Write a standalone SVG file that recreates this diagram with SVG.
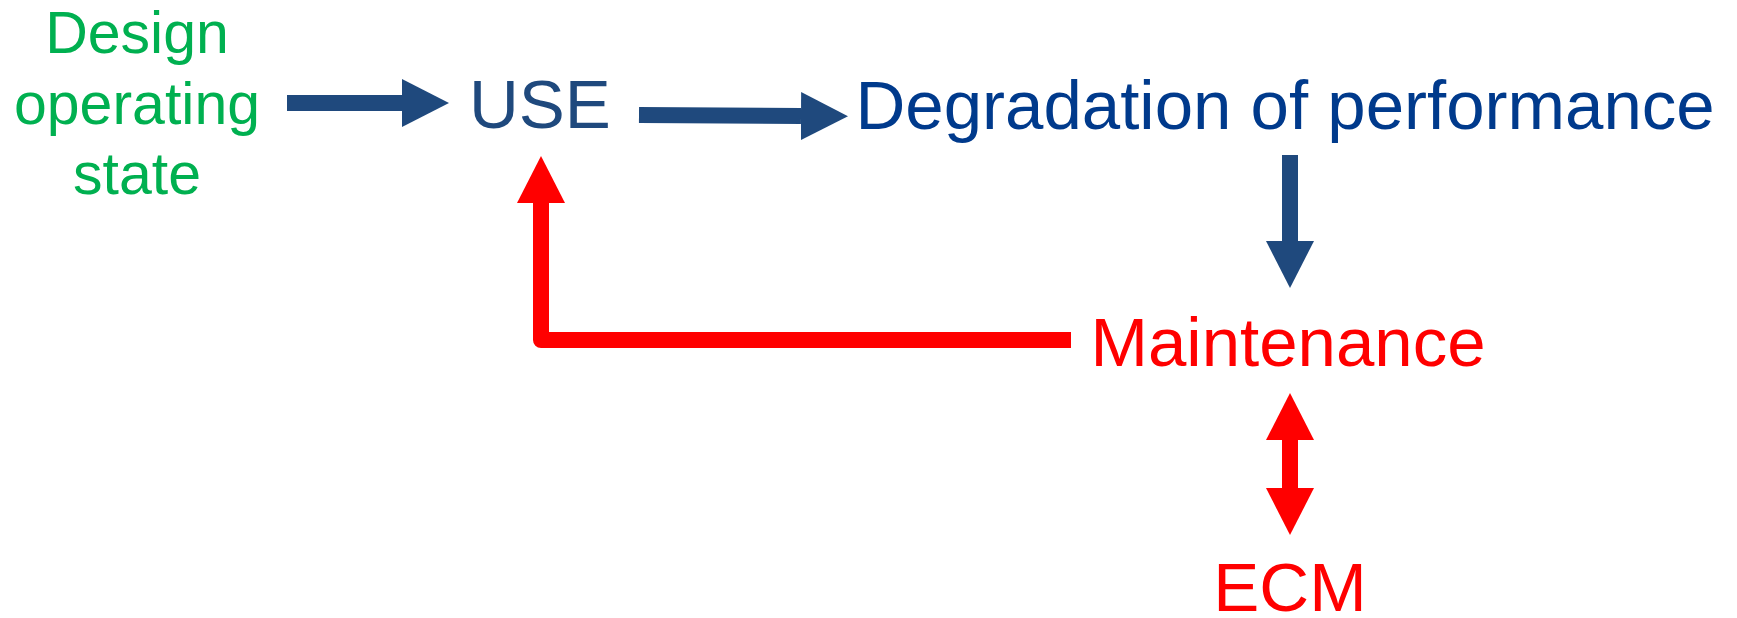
<svg xmlns="http://www.w3.org/2000/svg" width="1737" height="618" viewBox="0 0 1737 618">
  <style>
    .label { font-family: "Liberation Sans", Arial, sans-serif; font-size: 69px; }
    .green { fill: #00B050; font-size: 59px; text-anchor: middle; }
    .navy { fill: #1F497D; }
    .blue { fill: #003A8C; }
    .red { fill: #FF0000; }
    .shaft-blue { stroke: #1F497D; stroke-width: 16; fill: none; }
    .shaft-red { stroke: #FF0000; stroke-width: 16; fill: none; stroke-linejoin: round; }
  </style>
  <defs>
    <!-- Triangular heads; the reference point sits on the head base so the shaft meets it flush -->
    <marker id="head-blue" markerUnits="userSpaceOnUse" viewBox="0 0 47 48" refX="0" refY="24" markerWidth="47" markerHeight="48" orient="auto">
      <path d="M0,0 L47,24 L0,48 Z" fill="#1F497D"/>
    </marker>
    <marker id="head-red" markerUnits="userSpaceOnUse" viewBox="0 0 47 48" refX="0" refY="24" markerWidth="47" markerHeight="48" orient="auto-start-reverse">
      <path d="M0,0 L47,24 L0,48 Z" fill="#FF0000"/>
    </marker>
  </defs>

  <rect width="1737" height="618" fill="#FFFFFF"/>

  <g id="connectors">
    <!-- Design operating state -> USE -->
    <path class="shaft-blue" d="M287,103 L402,103" marker-end="url(#head-blue)"/>
    <!-- USE -> Degradation of performance -->
    <path class="shaft-blue" d="M639,115 L801,116" marker-end="url(#head-blue)"/>
    <!-- Degradation of performance -> Maintenance -->
    <path class="shaft-blue" d="M1290,155 L1290,241" marker-end="url(#head-blue)"/>
    <!-- Maintenance -> USE feedback loop -->
    <path class="shaft-red" d="M1071,340 L541,340 L541,203" marker-end="url(#head-red)"/>
    <!-- Maintenance <-> ECM -->
    <path class="shaft-red" d="M1290,440 L1290,488" marker-start="url(#head-red)" marker-end="url(#head-red)"/>
  </g>

  <g id="node-design">
    <text class="label green" x="137" y="53">Design</text>
    <text class="label green" x="137" y="123.5">operating</text>
    <text class="label green" x="137" y="193.5">state</text>
  </g>

  <g id="node-use">
    <text class="label navy" x="469" y="128">USE</text>
  </g>

  <g id="node-degradation">
    <text class="label blue" x="855.5" y="129">Degradation of performance</text>
  </g>

  <g id="node-maintenance">
    <text class="label red" x="1090.5" y="366">Maintenance</text>
  </g>

  <g id="node-ecm">
    <text class="label red" x="1290" y="611" text-anchor="middle">ECM</text>
  </g>
</svg>
